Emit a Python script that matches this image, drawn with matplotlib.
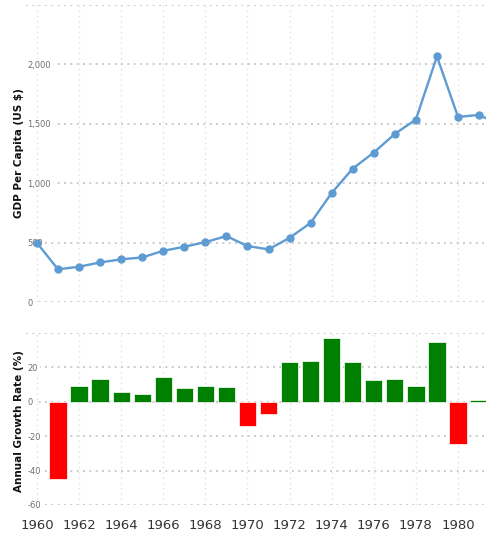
import matplotlib
matplotlib.use("Agg")
import matplotlib.pyplot as plt
from matplotlib.ticker import FuncFormatter

plt.rcParams['font.family'] = ['DejaVu Sans']
plt.rcParams['axes.unicode_minus'] = False

# ---- data ----
gdp_years = list(range(1960, 1983))
gdp_values = [498, 275, 297, 333, 359, 375, 431, 465, 504, 555, 471, 443,
              540, 666, 918, 1123, 1258, 1415, 1536, 2067, 1558, 1575, 1490]

growth_years = list(range(1961, 1982))
growth_values = [-44.8, 8.9, 13.1, 5.5, 4.4, 14.6, 8.2, 9.3, 8.7, -14.3, -7.2,
                 22.9, 23.8, 37.0, 23.4, 12.6, 13.0, 9.1, 34.7, -24.4, 1.3]

gdp_ticks = [0, 500, 1000, 1500, 2000, 2500]
growth_ticks = [-60, -40, -20, 0, 20, 40]
year_ticks = list(range(1960, 1981, 2))

W, H = 486, 535
fig = plt.figure(figsize=(W / 100, H / 100), dpi=100)
fig.patch.set_facecolor('white')

x0, x1 = 1959.48, 1981.33
ax1 = fig.add_axes([26 / W, 233 / H, 460 / W, 297 / H])
ax2 = fig.add_axes([26 / W, 30 / H, 460 / W, 172 / H])

line_color = '#5f9bd3'
grid_h = dict(color='#c4c4c4', linestyle=(0, (1.2, 2.6)), linewidth=1.2)
grid_v = dict(color='#e4e4e4', linestyle=(0, (1.2, 2.6)), linewidth=1.0)

for ax in (ax1, ax2):
    ax.set_xlim(x0, x1)
    for s in ax.spines.values():
        s.set_visible(False)
    ax.set_axisbelow(True)
    ax.set_xticks(year_ticks)
    ax.xaxis.grid(True, **grid_v)
    ax.yaxis.grid(True, **grid_h)
    ax.tick_params(axis='both', length=0)
    ax.tick_params(axis='y', pad=-1, labelsize=6, labelcolor='#707070')

# ---- top: GDP per capita line ----
ax1.plot(gdp_years, gdp_values, color=line_color, lw=1.7, marker='o',
         markersize=5, markeredgecolor=line_color, markerfacecolor=line_color,
         zorder=3)
ax1.set_ylim(0, 2500)
ax1.set_yticks(gdp_ticks)
ax1.yaxis.set_major_formatter(
    FuncFormatter(lambda v, p: '' if v >= 2500 else f'{int(v):,}'))
ax1.tick_params(axis='x', labelbottom=False)

# ---- bottom: growth rate bars ----
colors = ['#008000' if v >= 0 else '#ff0000' for v in growth_values]
ax2.bar(growth_years, growth_values, width=0.82, color=colors,
        edgecolor='white', linewidth=0.5, zorder=3)
ax2.set_ylim(-60, 40)
ax2.set_yticks(growth_ticks)
ax2.yaxis.set_major_formatter(
    FuncFormatter(lambda v, p: '' if v >= 40 else f'{int(v)}'))
ax2.tick_params(axis='x', labelsize=9.5, labelcolor='#333333', pad=10)

for ax in (ax1, ax2):
    for lab in ax.get_yticklabels():
        lab.set_horizontalalignment('left')
        lab.set_bbox(dict(facecolor='white', edgecolor='none', pad=1.2))

fig.text(19 / W, 1 - 153 / H, 'GDP Per Capita (US $)', rotation=90,
         ha='center', va='center', fontsize=7.5, fontweight='bold', color='#111111')
fig.text(19 / W, 1 - 421 / H, 'Annual Growth Rate (%)', rotation=90,
         ha='center', va='center', fontsize=7.5, fontweight='bold', color='#111111')

fig.savefig('out.png', dpi=100, facecolor='white')
